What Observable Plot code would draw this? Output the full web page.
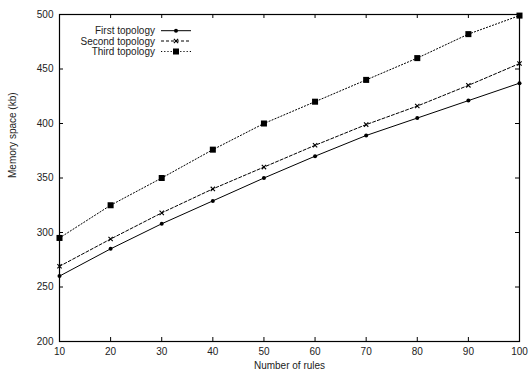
<!DOCTYPE html>
<html><head>
<meta charset="utf-8">
<script src="https://cdn.jsdelivr.net/npm/d3@7"></script>
<script src="https://cdn.jsdelivr.net/npm/@observablehq/plot@0.6"></script>
<style>
body{margin:0;background:#fff}
#wrap{position:relative;width:529px;height:377px}
#legend{position:absolute;left:0;top:0;pointer-events:none}
</style>
</head><body>
<div id="wrap"><div id="chart"></div><div id="legend"></div></div>
<script>
const rules = [10, 20, 30, 40, 50, 60, 70, 80, 90, 100];
const firstTopology  = [260, 285, 308, 329, 350, 370, 389, 405, 421, 437];
const secondTopology = [269, 294, 318, 340, 360, 380, 399, 416, 435, 455];
const thirdTopology  = [295, 325, 350, 376, 400, 420, 440, 460, 482, 499];
const seriesNames = ["First topology", "Second topology", "Third topology"];
const xTicks = [10, 20, 30, 40, 50, 60, 70, 80, 90, 100];
const yTicks = [200, 250, 300, 350, 400, 450, 500];
const xLabel = "Number of rules";
const yLabel = "Memory space (kb)";

const W = 529, H = 377, mL = 59, mR = 10, mT = 14, mB = 36;
const fw = W - mL - mR, fh = H - mT - mB, tk = 4;

const styles = [
  {dash: null, symbol: "circle", r: 2, fill: "black", stroke: "none"},
  {dash: "3,2", symbol: "times", r: 2.1, fill: "none", stroke: "black"},
  {dash: "1.2,2", symbol: "square", r: 3.4, fill: "black", stroke: "none"}
];
const seriesVals = [firstTopology, secondTopology, thirdTopology];
const data = seriesVals.map((vals, i) => rules.map((x, j) => ({x, y: vals[j], s: seriesNames[i]})));

const marks = [];
data.forEach((d, i) => {
  const st = styles[i];
  marks.push(Plot.line(d, {x: "x", y: "y", stroke: "black", strokeWidth: 1, strokeDasharray: st.dash}));
  marks.push(Plot.dot(d, {x: "x", y: "y", symbol: () => st.symbol, r: st.r, fill: st.fill, stroke: st.stroke, strokeWidth: 1.1}));
});

const chart = Plot.plot({
  width: W, height: H,
  marginLeft: mL, marginRight: mR, marginTop: mT, marginBottom: mB,
  style: {fontFamily: "'Liberation Sans', Arial, sans-serif", fontSize: "10px", color: "black", background: "white"},
  x: {domain: [10, 100]},
  y: {domain: [200, 500]},
  symbol: {type: "identity"},
  marks: [
    Plot.axisX(xTicks, {tickSize: 0, tickPadding: 6, label: null, fill: "#222"}),
    Plot.axisY(yTicks, {tickSize: 0, tickPadding: 6, label: null, fill: "#222"}),
    Plot.tickX(xTicks, {x: d => d, insetTop: fh - tk, stroke: "black"}),
    Plot.tickX(xTicks, {x: d => d, insetBottom: fh - tk, stroke: "black"}),
    Plot.tickY(yTicks, {y: d => d, insetRight: fw - tk, stroke: "black"}),
    Plot.tickY(yTicks, {y: d => d, insetLeft: fw - tk, stroke: "black"}),
    ...marks,
    Plot.frame({stroke: "black", strokeWidth: 1.2}),
    Plot.text([xLabel], {text: d => d, frameAnchor: "bottom", dy: 27, fill: "#222"}),
    Plot.text([yLabel], {text: d => d, frameAnchor: "left", dx: -47, rotate: -90, fill: "#222"})
  ]
});
document.getElementById("chart").appendChild(chart);

// legend overlay
const svg = d3.select("#legend").append("svg").attr("width", W).attr("height", 70)
  .style("font-family", "'Liberation Sans', Arial, sans-serif").style("font-size", "10px");
const rowY = [30.7, 41, 51.5];
seriesNames.forEach((name, i) => {
  const st = styles[i];
  const g = svg.append("g").attr("transform", `translate(0,${rowY[i]})`);
  g.append("text").attr("x", 155).attr("y", 0).attr("dy", "0.35em").attr("text-anchor", "end").attr("fill", "#222").text(name);
  g.append("line").attr("x1", 161).attr("x2", 191).attr("y1", 0).attr("y2", 0)
    .attr("stroke", "black").attr("stroke-width", 1).attr("stroke-dasharray", st.dash);
  const sym = {circle: d3.symbolCircle, times: d3.symbolTimes, square: d3.symbolSquare}[st.symbol];
  const size = Math.PI * st.r * st.r;
  g.append("path").attr("transform", "translate(176,0)").attr("d", d3.symbol(sym, size)())
    .attr("fill", st.fill).attr("stroke", st.stroke).attr("stroke-width", 1.1);
});
</script>
</body></html>
